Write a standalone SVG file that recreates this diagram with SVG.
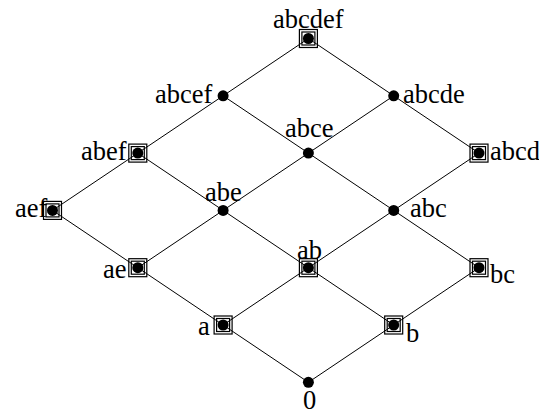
<svg xmlns="http://www.w3.org/2000/svg" width="539" height="414" viewBox="0 0 539 414">
  <style>
    .edge { stroke: #000; stroke-width: 1; fill: none; }
    .dot { fill: #000; }
    .box { fill: none; stroke: #000; stroke-width: 1.2; }
    .lbl { font-family: "Liberation Serif", "Times New Roman", serif; font-size: 26.5px; fill: #000; }
  </style>
  <defs>
    <g id="boxed">
      <rect class="box" x="-9" y="-9" width="18" height="18"/>
      <rect class="box" x="-6.5" y="-6.5" width="13" height="13"/>
      <circle class="dot" r="5.5"/>
    </g>
    <g id="plain">
      <circle class="dot" r="5.5"/>
    </g>
  </defs>
  <rect width="539" height="414" fill="#fff"/>

  <g id="connectors">
    <path class="edge" d="M308.4,38.5 L223.1,95.8 L137.8,153.1 L52.5,210.4 L137.8,267.7 L223.1,325 L308.4,382.3 L393.7,325 L479,267.7 L393.7,210.4 L479,153.1 L393.7,95.8 L308.4,38.5"/>
    <path class="edge" d="M223.1,95.8 L393.7,210.4"/>
    <path class="edge" d="M137.8,153.1 L308.4,267.7 L393.7,325"/>
    <path class="edge" d="M393.7,95.8 L223.1,210.4"/>
    <path class="edge" d="M223.1,210.4 L137.8,267.7"/>
    <path class="edge" d="M393.7,210.4 L223.1,325"/>
  </g>

  <g id="n-abcdef"><use href="#boxed" x="308.4" y="38.5"/><text class="lbl" x="273" y="28">abcdef</text></g>
  <g id="n-abcef"><use href="#plain" x="223.1" y="95.8"/><text class="lbl" x="155" y="103">abcef</text></g>
  <g id="n-abcde"><use href="#plain" x="393.7" y="95.8"/><text class="lbl" x="403" y="103">abcde</text></g>
  <g id="n-abef"><use href="#boxed" x="137.8" y="153.1"/><text class="lbl" x="81" y="160">abef</text></g>
  <g id="n-abce"><use href="#plain" x="308.4" y="153.1"/><text class="lbl" x="285" y="137">abce</text></g>
  <g id="n-abcd"><use href="#boxed" x="479" y="153.1"/><text class="lbl" x="490" y="160">abcd</text></g>
  <g id="n-aef"><use href="#boxed" x="52.5" y="210.4"/><text class="lbl" x="15" y="217">aef</text></g>
  <g id="n-abe"><use href="#plain" x="223.1" y="210.4"/><text class="lbl" x="205" y="201">abe</text></g>
  <g id="n-abc"><use href="#plain" x="393.7" y="210.4"/><text class="lbl" x="410" y="217">abc</text></g>
  <g id="n-ae"><use href="#boxed" x="137.8" y="267.7"/><text class="lbl" x="103" y="278">ae</text></g>
  <g id="n-ab"><use href="#boxed" x="308.4" y="267.7"/><text class="lbl" x="297" y="259">ab</text></g>
  <g id="n-bc"><use href="#boxed" x="479" y="267.7"/><text class="lbl" x="490" y="283">bc</text></g>
  <g id="n-a"><use href="#boxed" x="223.1" y="325"/><text class="lbl" x="198" y="335">a</text></g>
  <g id="n-b"><use href="#boxed" x="393.7" y="325"/><text class="lbl" x="406" y="342">b</text></g>
  <g id="n-0"><use href="#plain" x="308.4" y="382.3"/><text class="lbl" x="303" y="409">0</text></g>
</svg>
